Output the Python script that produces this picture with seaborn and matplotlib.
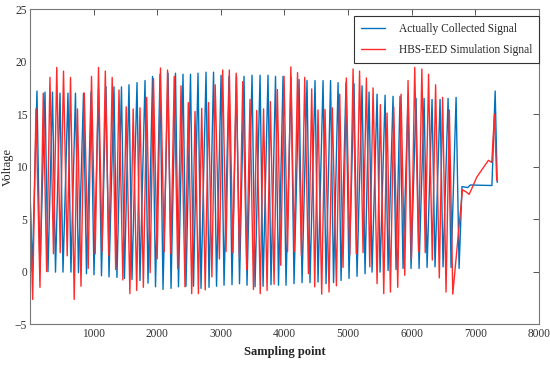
import matplotlib
matplotlib.use("Agg")
import matplotlib.pyplot as plt
import numpy as np
import pandas as pd
import seaborn as sns

# Measured signal (blue): start, peaks, troughs, tail after the oscillation stops
blue_start_x = [0, 36]
blue_start_v = [7.8, 0.0]
blue_peak_x = [110, 236, 354, 472, 597, 715, 841, 959, 1077, 1195, 1320, 1438, 1556, 1682,
               1808, 1926, 2044, 2170, 2287, 2405, 2523, 2641, 2767, 2885, 3003, 3128, 3246,
               3364, 3490, 3616, 3741, 3859, 3977, 4103, 4229, 4354, 4480, 4606, 4724, 4842,
               4967, 5093, 5219, 5329, 5455, 5581, 5706, 5816, 5942, 6068, 6194, 6319, 6445,
               6571, 6697]
blue_peak_v = [17.2, 17.1, 17.1, 17.0, 17.0, 17.0, 17.0, 17.1, 17.4, 17.6, 17.6, 17.6, 17.8,
               18.0, 18.2, 18.6, 18.8, 18.9, 18.9, 18.8, 18.8, 18.9, 19.0, 19.0, 18.7, 18.6,
               18.6, 18.6, 18.7, 18.7, 18.7, 18.6, 18.6, 18.5, 18.3, 18.2, 18.2, 18.2, 18.2,
               18.0, 18.0, 17.9, 17.7, 17.1, 16.9, 16.8, 16.7, 16.7, 16.6, 16.5, 16.5, 16.4,
               16.4, 16.5, 16.6]
blue_trough_x = [157, 283, 401, 519, 644, 762, 888, 1006, 1124, 1242, 1367, 1485, 1603, 1729,
                 1855, 1973, 2091, 2217, 2334, 2452, 2570, 2688, 2814, 2932, 3050, 3175, 3293,
                 3411, 3537, 3663, 3788, 3906, 4024, 4150, 4276, 4401, 4527, 4653, 4771, 4889,
                 5014, 5140, 5266, 5376, 5502, 5628, 5753, 5863, 5989, 6115, 6241, 6366, 6492,
                 6618, 6744]
blue_trough_v = [0.0, 0.0, -0.05, -0.05, -0.05, -0.1, -0.2, -0.3, -0.4, -0.5, -0.55, -0.65,
                 -0.75, -0.85, -1.1, -1.45, -1.7, -1.6, -1.45, -1.4, -1.4, -1.6, -1.5, -1.4,
                 -1.3, -1.25, -1.15, -1.3, -1.45, -1.4, -1.25, -1.3, -1.3, -1.15, -1.05, -1.05,
                 -1.0, -1.15, -1.05, -0.85, -0.65, -0.45, -0.2, -0.05, -0.05, 0.1, 0.2, 0.3,
                 0.3, 0.3, 0.4, 0.45, 0.45, 0.4, 0.3]
blue_tail_x = [6790, 6880, 6920, 7260, 7311, 7343]
blue_tail_v = [8.1, 8.0, 8.25, 8.2, 17.2, 8.5]

# Simulated signal (red)
red_start_x = [0]
red_start_v = [7.7]
red_trough_x = [42, 157, 262, 369, 475, 585, 695, 802, 915, 1025, 1132, 1240, 1347, 1460,
                1570, 1677, 1782, 1889, 1999, 2110, 2215, 2322, 2436, 2542, 2647, 2754, 2859,
                2977, 3081, 3189, 3292, 3406, 3512, 3619, 3726, 3836, 3941, 4048, 4153, 4266,
                4376, 4475, 4585, 4700, 4816, 4920, 5026, 5128, 5235, 5340, 5455, 5560, 5665,
                5780, 5890, 5995, 6107, 6212, 6323, 6433, 6539]
red_trough_v = [-2.65, -1.5, 0.0, 1.7, 1.8, 1.5, -2.65, -1.4, 0.3, 1.7, 1.9, 1.5, 0.2, -0.8,
                -2.1, -1.8, -1.5, -0.1, 1.2, 1.9, 1.7, 0.3, -1.45, -2.1, -2.1, -1.75, -0.5,
                1.2, 1.9, 1.8, 1.3, 0.2, -1.7, -2.1, -1.8, -1.2, 0.6, 1.9, 1.9, 1.5, -0.2,
                -1.45, -2.15, -1.95, -1.35, 0.4, 1.6, 1.7, 1.8, 0.45, -1.15, -2.1, -1.95, -1.5,
                -0.35, 1.2, 1.9, 1.8, 1.1, -0.6, -1.95]
red_peak_x = [94, 209, 314, 421, 527, 637, 747, 854, 967, 1077, 1184, 1292, 1399, 1512, 1622,
              1729, 1834, 1941, 2051, 2162, 2267, 2374, 2488, 2594, 2699, 2806, 2911, 3029,
              3133, 3241, 3344, 3458, 3564, 3671, 3778, 3888, 3993, 4100, 4205, 4318, 4428,
              4527, 4637, 4752, 4868, 4972, 5078, 5180, 5287, 5392, 5507, 5612, 5717, 5832,
              5942, 6047, 6159, 6264, 6375, 6485, 6591]
red_peak_v = [15.5, 17.0, 18.5, 19.45, 19.1, 18.5, 15.5, 17.0, 18.6, 19.45, 19.1, 18.5, 17.3,
              15.7, 15.5, 15.6, 16.6, 18.4, 19.4, 19.2, 18.6, 17.7, 16.1, 15.25, 15.55, 16.1,
              17.8, 19.2, 19.2, 18.9, 18.1, 16.4, 15.35, 15.5, 16.2, 17.35, 18.6, 19.5, 18.95,
              18.5, 17.4, 15.4, 15.45, 15.6, 16.9, 18.45, 19.3, 19.1, 18.45, 17.5, 15.9, 15.1,
              15.7, 16.9, 18.2, 19.45, 19.3, 18.8, 17.8, 16.6, 15.4]
red_tail_x = [6645, 6797, 6865, 6901, 6943, 7022, 7126, 7205, 7258, 7300, 7335]
red_tail_v = [-2.15, 7.8, 7.55, 7.35, 7.9, 9.0, 9.9, 10.6, 10.4, 15.0, 8.7]

x_ticks = [1000, 2000, 3000, 4000, 5000, 6000, 7000, 8000]
y_ticks = [-5, 0, 5, 10, 15, 20, 25]


def build(start_x, start_v, first_x, first_v, second_x, second_v, tail_x, tail_v):
    xs, vs = list(start_x), list(start_v)
    for a, b, c, d in zip(first_x, first_v, second_x, second_v):
        xs += [a, c]
        vs += [b, d]
    xs += tail_x
    vs += tail_v
    return pd.DataFrame({"x": xs, "v": vs})


blue = build(blue_start_x, blue_start_v, blue_peak_x, blue_peak_v,
             blue_trough_x, blue_trough_v, blue_tail_x, blue_tail_v)
red = build(red_start_x, red_start_v, red_trough_x, red_trough_v,
            red_peak_x, red_peak_v, red_tail_x, red_tail_v)

sns.set_style("white")
plt.rcParams["font.family"] = ["Liberation Serif", "DejaVu Serif"]

fig = plt.figure(figsize=(5.5, 3.67), dpi=100)
ax = fig.add_axes([0.0545, 0.117, 0.9255, 0.858])

sns.lineplot(data=blue, x="x", y="v", sort=False, estimator=None, color="#0072BD",
             linewidth=1.0, label="Actually Collected Signal", ax=ax)
sns.lineplot(data=red, x="x", y="v", sort=False, estimator=None, color="#FF2A2A",
             linewidth=1.0, label="HBS-EED Simulation Signal", ax=ax)

ax.set_xlim(0, 8000)
ax.set_ylim(-5, 25)
ax.set_xticks(x_ticks)
ax.set_yticks(y_ticks)
ax.tick_params(direction="in", length=4, width=0.7, colors="#555555", labelcolor="#333333",
               labelsize=8.3, top=True, right=True, pad=3)
ax.tick_params(axis="y", pad=2)
for s in ax.spines.values():
    s.set_color("#777777")
    s.set_linewidth(0.8)

ax.set_xlabel("Sampling point", fontsize=9, fontweight="bold", labelpad=4)
ax.set_ylabel("Voltage", fontsize=9)
ax.yaxis.set_label_coords(-0.032, 0.5)

leg = ax.legend(loc="upper right", bbox_to_anchor=(1.0, 0.978), borderaxespad=0,
                fontsize=8.3, frameon=True, fancybox=False, edgecolor="#333333",
                framealpha=1, handlelength=2.1, handletextpad=1.2, labelspacing=0.75,
                borderpad=0.6)
leg.get_frame().set_linewidth(0.8)

fig.savefig("out.png", dpi=100)
